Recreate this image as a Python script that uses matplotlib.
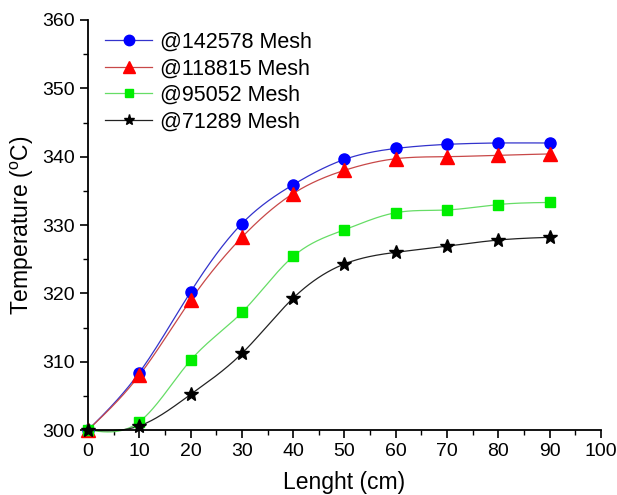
import numpy as np
import matplotlib
matplotlib.use("Agg")
import matplotlib.pyplot as plt
from matplotlib.ticker import MultipleLocator

plt.rcParams['font.family'] = ['Liberation Sans', 'DejaVu Sans']
plt.rcParams['mathtext.fontset'] = 'custom'
plt.rcParams['mathtext.rm'] = 'Liberation Sans'

x = [0, 10, 20, 30, 40, 50, 60, 70, 80, 90]
mesh_142578 = [300.0, 308.4, 320.2, 330.2, 335.9, 339.6, 341.2, 341.8, 342.0, 342.0]
mesh_118815 = [300.0, 308.0, 319.0, 328.2, 334.6, 338.0, 339.7, 340.0, 340.2, 340.4]
mesh_95052 = [300.0, 301.2, 310.2, 317.2, 325.4, 329.3, 331.8, 332.2, 333.0, 333.3]
mesh_71289 = [300.0, 300.6, 305.2, 311.2, 319.3, 324.3, 326.0, 326.9, 327.8, 328.2]
labels = ['@142578 Mesh', '@118815 Mesh', '@95052 Mesh', '@71289 Mesh']


def natural_spline(xs, ys, n=400):
    xs = np.asarray(xs, float)
    ys = np.asarray(ys, float)
    m = len(xs)
    h = np.diff(xs)
    A = np.zeros((m, m))
    b = np.zeros(m)
    A[0, 0] = 1
    A[-1, -1] = 1
    for i in range(1, m - 1):
        A[i, i - 1] = h[i - 1]
        A[i, i] = 2 * (h[i - 1] + h[i])
        A[i, i + 1] = h[i]
        b[i] = 6 * ((ys[i + 1] - ys[i]) / h[i] - (ys[i] - ys[i - 1]) / h[i - 1])
    M = np.linalg.solve(A, b)
    xx = np.linspace(xs[0], xs[-1], n)
    idx = np.clip(np.searchsorted(xs, xx) - 1, 0, m - 2)
    x0, x1 = xs[idx], xs[idx + 1]
    hh = x1 - x0
    t0 = x1 - xx
    t1 = xx - x0
    yy = (M[idx] * t0 ** 3 / (6 * hh) + M[idx + 1] * t1 ** 3 / (6 * hh)
          + (ys[idx] / hh - M[idx] * hh / 6) * t0
          + (ys[idx + 1] / hh - M[idx + 1] * hh / 6) * t1)
    return xx, yy


fig = plt.figure(figsize=(6.17, 4.95), dpi=100)
ax = fig.add_axes([0.1426, 0.1313, 0.8314, 0.8283])

series = [mesh_142578, mesh_118815, mesh_95052, mesh_71289]
line_colors = ['#3333cc', '#c84848', '#66dd66', '#222222']
marker_colors = ['#0000ff', '#ff0000', '#00ee00', '#000000']
markers = ['o', '^', 's', '*']
msizes = [8, 9.5, 7.5, 10]
leg_sizes = [7.5, 8.5, 6, 8]

for ys, lc, mc, mk, ms, ls_, lab in zip(series, line_colors, marker_colors, markers, msizes, leg_sizes, labels):
    xx, yy = natural_spline(x, ys)
    ax.plot(xx, yy, color=lc, lw=0.9, zorder=2)
    ax.plot(x, ys, linestyle='none', marker=mk, color=mc, markersize=ms, zorder=3)
    ax.plot([], [], color=lc, lw=0.9, marker=mk, markerfacecolor=mc,
            markeredgecolor=mc, markersize=ls_, label=lab)

ax.set_xlim(0, 100)
ax.set_ylim(300, 360)
ax.xaxis.set_major_locator(MultipleLocator(10))
ax.xaxis.set_minor_locator(MultipleLocator(5))
ax.yaxis.set_major_locator(MultipleLocator(10))
ax.yaxis.set_minor_locator(MultipleLocator(5))
ax.spines['top'].set_visible(False)
ax.spines['right'].set_visible(False)
for s in ['left', 'bottom']:
    ax.spines[s].set_linewidth(1.3)
ax.tick_params(which='major', direction='out', length=6, width=1.2, labelsize=14)
ax.tick_params(which='minor', direction='out', length=3.5, width=1.0)
for ln in ax.lines:
    ln.set_clip_on(False)

ax.set_xlabel('Lenght (cm)', fontsize=16.5, labelpad=8)
ax.set_ylabel('Temperature ($\\mathregular{^{o}}$C)', fontsize=16.5, labelpad=4)

ax.legend(loc='upper left', bbox_to_anchor=(0.01, 1.0), frameon=False, fontsize=15.5,
          handlelength=2.2, handletextpad=0.35, labelspacing=0.26, borderaxespad=0.15)

fig.savefig('out.png', dpi=100)
